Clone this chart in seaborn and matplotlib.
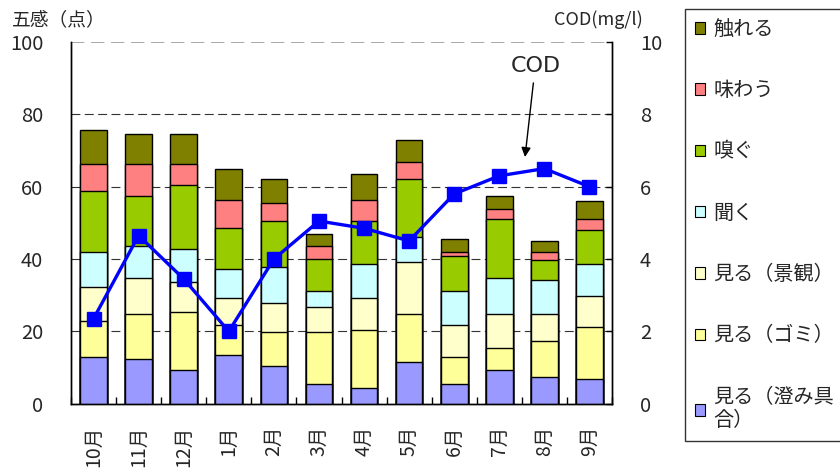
import numpy as np
import pandas as pd
import seaborn as sns
import matplotlib.pyplot as plt
from matplotlib.patches import Patch

sns.set_theme(style="white")
plt.rcParams['font.family'] = ['Noto Sans CJK JP', 'DejaVu Sans']

months = ['10月', '11月', '12月', '1月', '2月', '3月', '4月', '5月', '6月', '7月', '8月', '9月']

# 五感の各項目 (点), bottom to top
see_clear = [12.9, 12.3, 9.3, 13.4, 10.4, 5.4, 4.4, 11.5, 5.4, 9.3, 7.5, 6.8]
see_trash = [10.0, 12.4, 16.1, 8.4, 9.3, 14.3, 16.0, 13.2, 7.5, 6.1, 9.8, 14.3]
see_view = [9.3, 10.0, 8.3, 7.4, 8.2, 7.0, 8.8, 14.4, 8.9, 9.3, 7.4, 8.6]
hear = [9.8, 9.0, 9.0, 8.0, 9.8, 4.4, 9.4, 6.9, 9.4, 10.0, 9.4, 8.9]
smell = [16.9, 13.8, 17.7, 11.3, 12.8, 9.0, 11.9, 16.0, 9.5, 16.3, 5.5, 9.3]
taste = [7.5, 8.9, 6.0, 7.9, 4.9, 3.4, 5.9, 4.8, 1.3, 2.9, 2.4, 3.1]
touch = [9.4, 8.3, 8.3, 8.5, 6.6, 3.5, 7.1, 6.0, 3.5, 3.6, 3.1, 5.0]

cod = [2.35, 4.65, 3.45, 2.0, 4.0, 5.05, 4.85, 4.5, 5.8, 6.3, 6.5, 6.0]

labels = ['見る（澄み具合）', '見る（ゴミ）', '見る（景観）', '聞く', '嗅ぐ', '味わう', '触れる']
colors = ['#9999FF', '#FFFF99', '#FFFFCC', '#CCFFFF', '#99CC00', '#FF8080', '#808000']
layers = [see_clear, see_trash, see_view, hear, smell, taste, touch]

df = pd.DataFrame(dict(zip(labels, layers)), index=months)
cum = df.cumsum(axis=1)

fig = plt.figure(figsize=(8.4, 4.69), dpi=100)
ax = fig.add_axes([71 / 840, 1 - 403.7 / 469, 541 / 840, 361.7 / 469])

# draw cumulative totals from top layer down so lower layers cover them
for lab, col in reversed(list(zip(labels, colors))):
    sns.barplot(x=cum.index, y=cum[lab].values, color=col, saturation=1,
                width=0.59, edgecolor='black', linewidth=1, ax=ax, zorder=3)

ax.set_ylim(0, 100)
ax.set_xlim(-0.5, len(months) - 0.5)
ax.set_yticks(range(0, 101, 20))
for v in range(20, 100, 20):
    ax.axhline(v, color='#333333', lw=0.8, ls=(0, (8, 4)), zorder=1)
ax.axhline(100, color='#999999', lw=1.2, ls=(0, (8, 4)), zorder=1)
ax.spines['top'].set_visible(False)
for s in ['left', 'right', 'bottom']:
    ax.spines[s].set_color('black')
    ax.spines[s].set_linewidth(1)
ax.set_xlabel('')
ax.set_ylabel('')
ax.tick_params(axis='y', length=0, pad=20, labelsize=14.5)
ax.set_xticks(range(len(months)))
ax.set_xticklabels(months, rotation=90, fontsize=14, va='top')
ax.tick_params(axis='x', which='major', length=0, pad=16)
ax.set_xticks(np.arange(-0.5, len(months), 1), minor=True)
ax.tick_params(axis='x', which='minor', direction='in', length=5, width=1, color='black', bottom=True)

ax2 = ax.twinx()
ax2.plot(range(len(months)), cod, color='#0000FF', lw=2.4, marker='s', markersize=10, zorder=5)
ax2.set_ylim(0, 10)
ax2.set_yticks(range(0, 11, 2))
ax2.tick_params(axis='y', direction='in', length=4, width=1, pad=20, labelsize=14.5, color='black')
ax2.spines['top'].set_visible(False)
for s in ['left', 'right', 'bottom']:
    ax2.spines[s].set_color('black')
    ax2.spines[s].set_linewidth(1)
ax2.grid(False)

ax2.annotate('COD', xy=(9.57, 6.82), xytext=(9.8, 9.35), ha='center', va='center',
             fontsize=16, family=['DejaVu Sans'],
             arrowprops=dict(arrowstyle='-|>', color='black', lw=1, mutation_scale=14,
                             shrinkA=3, shrinkB=0))

fig.text(12 / 840, 1 - 20 / 469, '五感（点）', fontsize=13.5, ha='left', va='center')
fig.text(598 / 840, 1 - 20 / 469, 'COD(mg/l)', fontsize=13, ha='center', va='center')

handles = [Patch(facecolor=c, edgecolor='black', lw=0.8) for c in reversed(colors)]
leg_labels = ['触れる', '味わう', '嗅ぐ', '聞く', '見る（景観）', '見る（ゴミ）', '見る（澄み具\n合）']
leg = fig.legend(handles, leg_labels, loc='upper left', bbox_to_anchor=(685 / 840, 1 - 9 / 469),
                 borderaxespad=0, frameon=True, fancybox=False, edgecolor='black',
                 fontsize=14.5, handlelength=0.5, handleheight=0.5, handletextpad=0.4,
                 labelspacing=2.0, borderpad=0.5)
leg.get_texts()[-1].set_linespacing(1.15)

fig.savefig('out.png', dpi=100)
